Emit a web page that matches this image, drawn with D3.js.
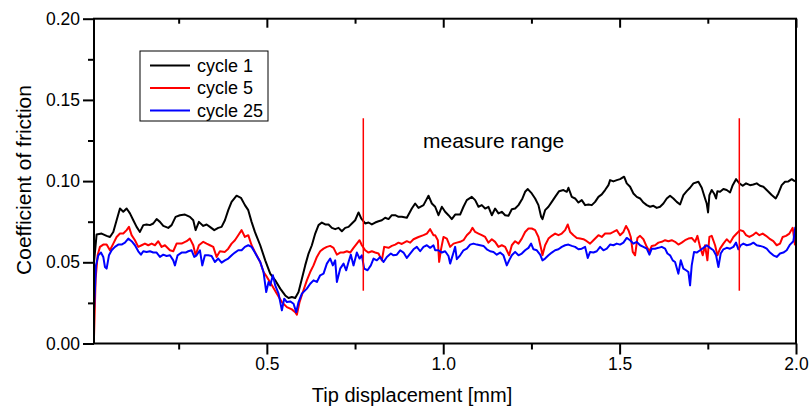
<!DOCTYPE html>
<html>
<head>
<meta charset="utf-8">
<script src="https://cdn.jsdelivr.net/npm/d3@7/dist/d3.min.js"></script>
<style>
    body { margin: 0; background: #fff; }
    svg text { font-family: "Liberation Sans", Arial, sans-serif; fill: #000; }
</style>
</head>
<body>
<svg id="chart" width="809" height="409"></svg>
<script>

/* [tip displacement in mm, coefficient of friction] */
var CYCLE_1 = [
    [0.010,0.050],[0.0174,0.0671],[0.0316,0.0677],[0.0458,0.0663],[0.0552,0.0656],[0.0647,0.0687],[0.0741,0.0759],
    [0.0836,0.0831],[0.0930,0.0811],[0.1025,0.0831],[0.1119,0.0801],[0.1214,0.0759],[0.1308,0.0718],[0.1402,0.0687],
    [0.1497,0.0729],[0.1591,0.0733],[0.1686,0.0729],[0.1780,0.0739],[0.1875,0.0766],[0.1969,0.0749],[0.2064,0.0724],
    [0.2205,0.0712],[0.2300,0.0729],[0.2413,0.0780],[0.2536,0.0790],[0.2678,0.0794],[0.2819,0.0780],[0.2914,0.0759],
    [0.2980,0.0698],[0.3074,0.0749],[0.3197,0.0724],[0.3292,0.0733],[0.3386,0.0718],[0.3509,0.0698],[0.3622,0.0712],
    [0.3717,0.0718],[0.3811,0.0759],[0.3906,0.0821],[0.4000,0.0872],[0.4142,0.0910],[0.4265,0.0897],[0.4378,0.0852],
    [0.4473,0.0821],[0.4567,0.0749],[0.4661,0.0687],[0.4812,0.0605],[0.4954,0.0512],[0.5095,0.0430],[0.5237,0.0389],
    [0.5379,0.0338],[0.5520,0.0296],[0.5615,0.0280],[0.5709,0.0286],[0.5804,0.0280],[0.5898,0.0317],[0.5993,0.0399],
    [0.6087,0.0481],[0.6182,0.0554],[0.6276,0.0605],[0.6371,0.0677],[0.6465,0.0729],[0.6559,0.0745],[0.6654,0.0733],
    [0.6748,0.0733],[0.6843,0.0712],[0.6937,0.0704],[0.7032,0.0712],[0.7126,0.0691],[0.7221,0.0712],[0.7315,0.0718],
    [0.7410,0.0739],[0.7504,0.0759],[0.7599,0.0807],[0.7674,0.0770],[0.7787,0.0739],[0.7882,0.0745],[0.7976,0.0733],
    [0.8071,0.0745],[0.8165,0.0753],[0.8260,0.0759],[0.8354,0.0774],[0.8449,0.0766],[0.8543,0.0790],[0.8638,0.0790],
    [0.8732,0.0780],[0.8826,0.0780],[0.8968,0.0774],[0.9110,0.0831],[0.9204,0.0862],[0.9299,0.0835],[0.9441,0.0852],
    [0.9516,0.0883],[0.9582,0.0910],[0.9677,0.0862],[0.9771,0.0842],[0.9865,0.0790],[0.9960,0.0842],[1.0054,0.0811],
    [1.0149,0.0790],[1.0243,0.0766],[1.0338,0.0794],[1.0479,0.0794],[1.0574,0.0842],[1.0668,0.0883],[1.0810,0.0903],
    [1.0905,0.0883],[1.0999,0.0842],[1.1093,0.0852],[1.1188,0.0831],[1.1282,0.0842],[1.1377,0.0790],[1.1471,0.0831],
    [1.1566,0.0801],[1.1660,0.0811],[1.1755,0.0790],[1.1849,0.0786],[1.1944,0.0827],[1.2038,0.0831],[1.2133,0.0852],
    [1.2246,0.0893],[1.2321,0.0934],[1.2397,0.0951],[1.2510,0.0924],[1.2605,0.0893],[1.2699,0.0852],[1.2775,0.0780],
    [1.2813,0.0766],[1.2888,0.0821],[1.2983,0.0842],[1.3077,0.0872],[1.3172,0.0903],[1.3285,0.0938],[1.3408,0.0945],
    [1.3502,0.0934],[1.3549,0.0959],[1.3644,0.0903],[1.3738,0.0893],[1.3833,0.0868],[1.3927,0.0883],[1.4022,0.0852],
    [1.4116,0.0856],[1.4211,0.0852],[1.4305,0.0872],[1.4400,0.0903],[1.4494,0.0918],[1.4588,0.0945],[1.4683,0.0975],
    [1.4730,0.1006],[1.4824,0.0998],[1.4919,0.1006],[1.5013,0.1012],[1.5127,0.1027],[1.5202,0.0986],[1.5297,0.0965],
    [1.5391,0.0924],[1.5486,0.0903],[1.5580,0.0893],[1.5675,0.0868],[1.5769,0.0852],[1.5864,0.0842],[1.5958,0.0848],
    [1.6052,0.0835],[1.6147,0.0842],[1.6241,0.0862],[1.6336,0.0893],[1.6430,0.0910],[1.6525,0.0893],[1.6619,0.0872],
    [1.6714,0.0856],[1.6808,0.0914],[1.6903,0.0938],[1.6997,0.0959],[1.7092,0.0986],[1.7233,0.0996],[1.7328,0.0959],
    [1.7422,0.0893],[1.7469,0.0862],[1.7507,0.0807],[1.7545,0.0914],[1.7611,0.0945],[1.7677,0.0924],[1.7734,0.0893],
    [1.7772,0.0938],[1.7847,0.0934],[1.7942,0.0951],[1.8036,0.0945],[1.8131,0.0930],[1.8206,0.0975],[1.8300,0.1012],
    [1.8395,0.0986],[1.8490,0.0971],[1.8584,0.0986],[1.8697,0.0975],[1.8792,0.0979],[1.8886,0.0986],[1.8981,0.0971],
    [1.9075,0.0965],[1.9169,0.0945],[1.9311,0.0914],[1.9425,0.0893],[1.9500,0.0924],[1.9595,0.0975],[1.9689,0.0996],
    [1.9784,0.0998],[1.9878,0.1012],[1.9972,0.0998]
];

var CYCLE_5 = [
    [0.010,0.004],[0.0146,0.0399],[0.0203,0.0543],[0.0269,0.0595],[0.0363,0.0609],[0.0458,0.0609],[0.0552,0.0574],
    [0.0647,0.0615],[0.0741,0.0656],[0.0836,0.0677],[0.0930,0.0677],[0.1025,0.0698],[0.1091,0.0718],[0.1166,0.0667],
    [0.1261,0.0636],[0.1355,0.0595],[0.1450,0.0605],[0.1544,0.0615],[0.1639,0.0605],[0.1733,0.0615],[0.1828,0.0605],
    [0.1922,0.0630],[0.2016,0.0595],[0.2111,0.0605],[0.2253,0.0574],[0.2347,0.0568],[0.2441,0.0615],[0.2583,0.0615],
    [0.2725,0.0630],[0.2819,0.0646],[0.2914,0.0605],[0.2980,0.0543],[0.3074,0.0605],[0.3197,0.0626],[0.3292,0.0615],
    [0.3386,0.0605],[0.3481,0.0595],[0.3575,0.0533],[0.3669,0.0568],[0.3811,0.0564],[0.3906,0.0584],[0.4000,0.0615],
    [0.4095,0.0636],[0.4189,0.0667],[0.4284,0.0698],[0.4378,0.0656],[0.4473,0.0667],[0.4567,0.0605],[0.4661,0.0564],
    [0.4812,0.0502],[0.4906,0.0440],[0.5001,0.0410],[0.5143,0.0358],[0.5284,0.0307],[0.5426,0.0255],[0.5568,0.0224],
    [0.5709,0.0210],[0.5804,0.0193],[0.5851,0.0177],[0.5927,0.0255],[0.6021,0.0317],[0.6134,0.0389],[0.6229,0.0440],
    [0.6323,0.0481],[0.6418,0.0533],[0.6512,0.0568],[0.6607,0.0584],[0.6701,0.0595],[0.6796,0.0601],[0.6890,0.0589],
    [0.6985,0.0547],[0.7079,0.0560],[0.7174,0.0560],[0.7268,0.0568],[0.7362,0.0560],[0.7457,0.0589],[0.7551,0.0615],
    [0.7627,0.0636],[0.7693,0.0605],[0.7787,0.0574],[0.7882,0.0560],[0.7976,0.0568],[0.8071,0.0560],[0.8165,0.0554],
    [0.8260,0.0512],[0.8326,0.0595],[0.8449,0.0589],[0.8543,0.0601],[0.8638,0.0609],[0.8732,0.0621],[0.8826,0.0613],
    [0.8968,0.0630],[0.9063,0.0621],[0.9157,0.0642],[0.9299,0.0656],[0.9441,0.0667],[0.9535,0.0677],[0.9629,0.0704],
    [0.9724,0.0667],[0.9771,0.0667],[0.9847,0.0636],[0.9884,0.0502],[0.9941,0.0584],[1.0007,0.0656],[1.0102,0.0646],
    [1.0196,0.0595],[1.0291,0.0615],[1.0385,0.0621],[1.0479,0.0626],[1.0574,0.0636],[1.0668,0.0667],[1.0763,0.0687],
    [1.0829,0.0712],[1.0905,0.0687],[1.0999,0.0677],[1.1093,0.0667],[1.1188,0.0656],[1.1282,0.0621],[1.1377,0.0642],
    [1.1471,0.0626],[1.1566,0.0595],[1.1660,0.0605],[1.1755,0.0595],[1.1868,0.0543],[1.1944,0.0605],[1.2038,0.0630],
    [1.2133,0.0615],[1.2227,0.0646],[1.2321,0.0687],[1.2416,0.0708],[1.2510,0.0708],[1.2605,0.0698],[1.2699,0.0656],
    [1.2775,0.0584],[1.2813,0.0543],[1.2888,0.0605],[1.2983,0.0646],[1.3077,0.0663],[1.3172,0.0677],[1.3266,0.0667],
    [1.3360,0.0677],[1.3455,0.0698],[1.3530,0.0733],[1.3597,0.0687],[1.3691,0.0667],[1.3786,0.0650],[1.3880,0.0646],
    [1.3974,0.0642],[1.4069,0.0630],[1.4163,0.0615],[1.4258,0.0636],[1.4400,0.0667],[1.4494,0.0656],[1.4588,0.0677],
    [1.4683,0.0677],[1.4730,0.0677],[1.4824,0.0687],[1.4919,0.0698],[1.5013,0.0667],[1.5108,0.0687],[1.5183,0.0724],
    [1.5250,0.0698],[1.5316,0.0656],[1.5372,0.0564],[1.5438,0.0543],[1.5505,0.0650],[1.5580,0.0663],[1.5675,0.0642],
    [1.5769,0.0595],[1.5845,0.0568],[1.5911,0.0601],[1.6005,0.0605],[1.6100,0.0621],[1.6194,0.0626],[1.6289,0.0636],
    [1.6383,0.0630],[1.6477,0.0636],[1.6572,0.0626],[1.6666,0.0609],[1.6761,0.0621],[1.6855,0.0636],[1.6950,0.0646],
    [1.7044,0.0650],[1.7139,0.0626],[1.7205,0.0663],[1.7280,0.0595],[1.7356,0.0543],[1.7422,0.0605],[1.7488,0.0512],
    [1.7545,0.0656],[1.7611,0.0663],[1.7706,0.0605],[1.7772,0.0543],[1.7847,0.0584],[1.7942,0.0615],[1.8036,0.0642],
    [1.8131,0.0621],[1.8225,0.0656],[1.8319,0.0677],[1.8414,0.0698],[1.8508,0.0691],[1.8584,0.0667],[1.8678,0.0656],
    [1.8773,0.0667],[1.8867,0.0683],[1.8962,0.0667],[1.9056,0.0677],[1.9150,0.0663],[1.9245,0.0646],[1.9358,0.0630],
    [1.9453,0.0605],[1.9547,0.0615],[1.9623,0.0656],[1.9717,0.0663],[1.9812,0.0677],[1.9906,0.0712],[1.9972,0.0605]
];

var CYCLE_25 = [
    [0.010,0.020],[0.0156,0.0481],[0.0222,0.0543],[0.0297,0.0560],[0.0363,0.0533],[0.0411,0.0471],[0.0458,0.0461],
    [0.0524,0.0543],[0.0600,0.0574],[0.0694,0.0595],[0.0788,0.0609],[0.0883,0.0609],[0.0977,0.0621],[0.1072,0.0646],
    [0.1166,0.0630],[0.1261,0.0605],[0.1355,0.0568],[0.1431,0.0547],[0.1497,0.0568],[0.1591,0.0564],[0.1686,0.0568],
    [0.1780,0.0560],[0.1875,0.0560],[0.1969,0.0533],[0.2064,0.0547],[0.2158,0.0539],[0.2253,0.0543],[0.2347,0.0512],
    [0.2394,0.0481],[0.2470,0.0543],[0.2583,0.0560],[0.2697,0.0560],[0.2772,0.0568],[0.2867,0.0574],[0.2942,0.0533],
    [0.3008,0.0543],[0.3103,0.0574],[0.3169,0.0481],[0.3244,0.0543],[0.3339,0.0543],[0.3433,0.0539],[0.3528,0.0502],
    [0.3622,0.0523],[0.3717,0.0498],[0.3811,0.0512],[0.3906,0.0523],[0.4019,0.0547],[0.4095,0.0560],[0.4189,0.0574],
    [0.4284,0.0574],[0.4378,0.0595],[0.4473,0.0605],[0.4567,0.0595],[0.4661,0.0560],[0.4756,0.0523],[0.4812,0.0502],
    [0.4906,0.0440],[0.4982,0.0317],[0.5048,0.0379],[0.5095,0.0358],[0.5171,0.0420],[0.5237,0.0358],[0.5332,0.0307],
    [0.5426,0.0204],[0.5492,0.0276],[0.5568,0.0255],[0.5662,0.0259],[0.5757,0.0245],[0.5832,0.0193],[0.5898,0.0255],
    [0.5993,0.0307],[0.6134,0.0338],[0.6229,0.0368],[0.6323,0.0389],[0.6418,0.0379],[0.6512,0.0420],[0.6607,0.0430],
    [0.6701,0.0492],[0.6796,0.0523],[0.6871,0.0481],[0.6937,0.0512],[0.6985,0.0379],[0.7079,0.0461],[0.7174,0.0492],
    [0.7249,0.0451],[0.7315,0.0502],[0.7381,0.0547],[0.7457,0.0481],[0.7551,0.0560],[0.7627,0.0523],[0.7693,0.0543],
    [0.7759,0.0461],[0.7854,0.0451],[0.7948,0.0481],[0.8024,0.0523],[0.8118,0.0512],[0.8213,0.0533],[0.8307,0.0502],
    [0.8402,0.0533],[0.8515,0.0554],[0.8590,0.0543],[0.8685,0.0547],[0.8779,0.0574],[0.8874,0.0560],[0.8968,0.0527],
    [0.9063,0.0554],[0.9157,0.0580],[0.9252,0.0595],[0.9346,0.0568],[0.9441,0.0595],[0.9535,0.0605],[0.9629,0.0589],
    [0.9724,0.0605],[0.9771,0.0574],[0.9865,0.0574],[0.9960,0.0560],[1.0054,0.0568],[1.0149,0.0539],[1.0196,0.0492],
    [1.0291,0.0560],[1.0338,0.0595],[1.0385,0.0519],[1.0479,0.0543],[1.0574,0.0574],[1.0668,0.0584],[1.0763,0.0609],
    [1.0857,0.0615],[1.0952,0.0609],[1.1046,0.0605],[1.1141,0.0601],[1.1235,0.0580],[1.1330,0.0568],[1.1424,0.0564],
    [1.1518,0.0547],[1.1613,0.0560],[1.1707,0.0543],[1.1802,0.0481],[1.1868,0.0512],[1.1944,0.0543],[1.2038,0.0564],
    [1.2133,0.0543],[1.2227,0.0554],[1.2321,0.0574],[1.2416,0.0589],[1.2491,0.0615],[1.2558,0.0580],[1.2652,0.0574],
    [1.2747,0.0547],[1.2813,0.0512],[1.2888,0.0523],[1.2983,0.0543],[1.3077,0.0560],[1.3172,0.0574],[1.3266,0.0580],
    [1.3360,0.0595],[1.3455,0.0605],[1.3549,0.0609],[1.3644,0.0601],[1.3738,0.0595],[1.3833,0.0580],[1.3927,0.0584],
    [1.4022,0.0595],[1.4097,0.0527],[1.4163,0.0564],[1.4258,0.0560],[1.4352,0.0568],[1.4447,0.0595],[1.4541,0.0574],
    [1.4636,0.0584],[1.4730,0.0609],[1.4824,0.0605],[1.4919,0.0615],[1.5013,0.0609],[1.5108,0.0621],[1.5202,0.0650],
    [1.5297,0.0636],[1.5391,0.0615],[1.5486,0.0626],[1.5580,0.0605],[1.5675,0.0595],[1.5769,0.0584],[1.5845,0.0547],
    [1.5911,0.0584],[1.6005,0.0584],[1.6100,0.0589],[1.6194,0.0595],[1.6289,0.0584],[1.6355,0.0554],[1.6430,0.0543],
    [1.6506,0.0512],[1.6572,0.0502],[1.6666,0.0430],[1.6733,0.0512],[1.6808,0.0461],[1.6884,0.0451],[1.6950,0.0440],
    [1.6997,0.0358],[1.7044,0.0481],[1.7110,0.0564],[1.7186,0.0560],[1.7280,0.0574],[1.7375,0.0589],[1.7469,0.0605],
    [1.7564,0.0589],[1.7658,0.0574],[1.7734,0.0543],[1.7800,0.0471],[1.7866,0.0554],[1.7942,0.0580],[1.8036,0.0589],
    [1.8131,0.0584],[1.8225,0.0595],[1.8300,0.0621],[1.8367,0.0580],[1.8433,0.0605],[1.8508,0.0615],[1.8603,0.0605],
    [1.8697,0.0609],[1.8792,0.0621],[1.8886,0.0605],[1.8981,0.0601],[1.9075,0.0595],[1.9169,0.0584],[1.9264,0.0560],
    [1.9358,0.0543],[1.9453,0.0533],[1.9547,0.0554],[1.9642,0.0560],[1.9736,0.0574],[1.9831,0.0609],[1.9925,0.0630],
    [1.9982,0.0718]
];

var SERIES = [CYCLE_1, CYCLE_5, CYCLE_25];
var SERIES_NAMES = ["cycle 1", "cycle 5", "cycle 25"];
var SERIES_COLORS = ["#000000", "#ff0000", "#0000ff"];

var X_MAJOR_TICKS = [0.5, 1.0, 1.5, 2.0];
var X_MINOR_TICKS = [0.25, 0.75, 1.25, 1.75];
var Y_MAJOR_TICKS = [0, 0.05, 0.10, 0.15, 0.20];
var Y_MINOR_TICKS = [0.025, 0.075, 0.125, 0.175];

/* measure range markers: x position, from / to friction value */
var MEASURE_LINES_X = [0.7734, 1.8393];
var MEASURE_LINE_SPAN = [0.0325, 0.1387];
var MEASURE_LABEL = "measure range";

var X_TITLE = "Tip displacement [mm]";
var Y_TITLE = "Coefficient of friction";

draw();

function draw(){
    var svg = d3.select("#chart");
    var left = 94, right = 796, top = 18.7, bottom = 343.5;

    var x = d3.scaleLinear().domain([0.01, 2.0]).range([left, right]);
    var y = d3.scaleLinear().domain([0, 0.20]).range([bottom, top]);

    /* curves first, frame on top of them */
    var line = d3.line()
        .x(function(d){ return x(d[0]); })
        .y(function(d){ return y(d[1]); });

    SERIES.forEach(function(series, i){
        svg.append("path")
            .attr("d", line(series))
            .attr("fill", "none")
            .attr("stroke", SERIES_COLORS[i])
            .attr("stroke-width", 2)
            .attr("stroke-linejoin", "round");
    });

    MEASURE_LINES_X.forEach(function(mx){
        svg.append("line")
            .attr("x1", x(mx)).attr("x2", x(mx))
            .attr("y1", y(MEASURE_LINE_SPAN[0])).attr("y2", y(MEASURE_LINE_SPAN[1]))
            .attr("stroke", "#ff0000")
            .attr("stroke-width", 1.5);
    });

    svg.append("text")
        .attr("x", 423)
        .attr("y", 148)
        .style("font-size", "21px")
        .text(MEASURE_LABEL);

    /* axes */
    appendAxis(svg, d3.axisBottom(x).tickValues(X_MAJOR_TICKS).tickSize(11).tickFormat(d3.format(".1f")), "translate(0," + bottom + ")", true);
    appendAxis(svg, d3.axisBottom(x).tickValues(X_MINOR_TICKS).tickSize(6).tickFormat(""), "translate(0," + bottom + ")", false);
    appendAxis(svg, d3.axisBottom(x).tickValues(X_MAJOR_TICKS).tickSize(9).tickFormat(""), "translate(0," + top + ")", false);
    appendAxis(svg, d3.axisBottom(x).tickValues(X_MINOR_TICKS).tickSize(5).tickFormat(""), "translate(0," + top + ")", false);
    appendAxis(svg, d3.axisLeft(y).tickValues(Y_MAJOR_TICKS).tickSize(11).tickFormat(d3.format(".2f")), "translate(" + left + ",0)", true);
    appendAxis(svg, d3.axisLeft(y).tickValues(Y_MINOR_TICKS).tickSize(6).tickFormat(""), "translate(" + left + ",0)", false);

    svg.append("rect")
        .attr("x", left).attr("y", top)
        .attr("width", right - left).attr("height", bottom - top)
        .attr("fill", "none")
        .attr("stroke", "#000")
        .attr("stroke-width", 2);

    svg.append("text")
        .attr("x", 412)
        .attr("y", 402)
        .attr("text-anchor", "middle")
        .style("font-size", "20px")
        .text(X_TITLE);

    svg.append("text")
        .attr("transform", "translate(31,180) rotate(-90)")
        .attr("text-anchor", "middle")
        .style("font-size", "21px")
        .text(Y_TITLE);

    appendLegend(svg);
}

function appendAxis(svg, axis, transform, withLabels){
    var g = svg.append("g").attr("transform", transform).call(axis);
    g.select(".domain").remove();
    g.selectAll(".tick line").attr("stroke", "#000").attr("stroke-width", 2);
    if (withLabels){
        g.selectAll(".tick text")
            .style("font-size", "17.5px")
            .style("font-family", "\"Liberation Sans\", Arial, sans-serif")
            .attr("fill", "#000");
    }
}

function appendLegend(svg){
    var legend = svg.append("g").attr("transform", "translate(140,51)");
    legend.append("rect")
        .attr("width", 128).attr("height", 70)
        .attr("fill", "#fff")
        .attr("stroke", "#000")
        .attr("stroke-width", 1);

    var rowHeight = 22.5;
    SERIES_NAMES.forEach(function(name, i){
        var rowY = 14.5 + i*rowHeight;
        legend.append("line")
            .attr("x1", 10).attr("x2", 50)
            .attr("y1", rowY).attr("y2", rowY)
            .attr("stroke", SERIES_COLORS[i])
            .attr("stroke-width", 2);
        legend.append("text")
            .attr("x", 57)
            .attr("y", rowY + 6)
            .style("font-size", "18px")
            .text(name);
    });
}
</script>
</body>
</html>
